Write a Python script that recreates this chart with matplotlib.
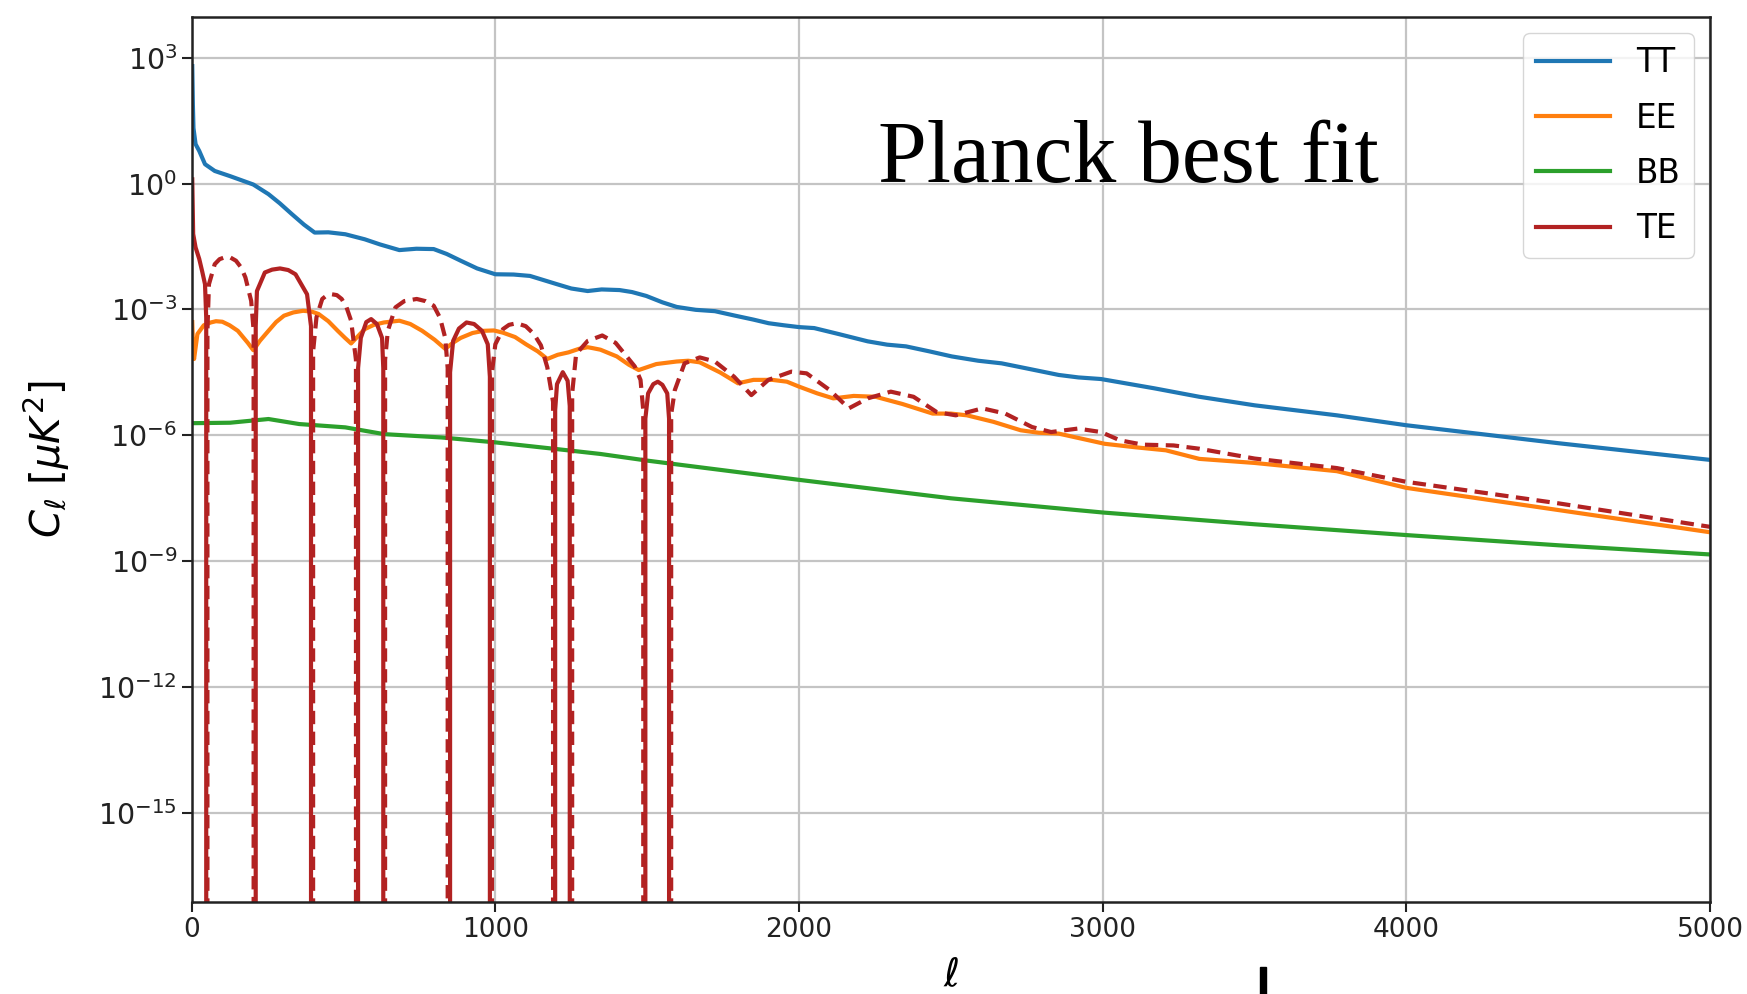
import matplotlib
matplotlib.use("Agg")
import matplotlib.pyplot as plt
from matplotlib.patches import Rectangle
from matplotlib.ticker import NullLocator
import numpy as np

# Planck best-fit angular power spectra, C_ell in uK^2
ell_tt = [2, 4, 6, 13, 25, 44, 76, 127, 203, 253, 290, 329, 370, 405, 450, 506,
          570, 620, 684, 740, 797, 840, 886, 940, 1000, 1060, 1114, 1203, 1250,
          1304, 1350, 1409, 1450, 1497, 1550, 1597, 1660, 1723, 1790, 1849, 1900,
          1950, 2000, 2050, 2130, 2226, 2290, 2352, 2430, 2503, 2590, 2667, 2760,
          2855, 2920, 2994, 3170, 3318, 3500, 3771, 4000, 4500, 5000]
cl_tt = [6.3e2, 79, 21, 8.7, 6.0, 2.9, 2.0, 1.5, 0.95, 0.56, 0.34, 0.19, 0.105,
         6.8e-2, 6.9e-2, 6.2e-2, 4.7e-2, 3.55e-2, 2.6e-2, 2.8e-2, 2.75e-2, 2.1e-2,
         1.45e-2, 9.5e-3, 6.9e-3, 6.8e-3, 6.3e-3, 4.0e-3, 3.16e-3, 2.75e-3, 3.0e-3,
         2.9e-3, 2.6e-3, 2.1e-3, 1.48e-3, 1.15e-3, 9.8e-4, 9.1e-4, 7.1e-4, 5.75e-4,
         4.7e-4, 4.2e-4, 3.8e-4, 3.6e-4, 2.6e-4, 1.74e-4, 1.45e-4, 1.32e-4, 1.0e-4,
         7.6e-5, 6.0e-5, 5.2e-5, 3.8e-5, 2.75e-5, 2.4e-5, 2.2e-5, 1.32e-5, 8.3e-6,
         5.2e-6, 3.0e-6, 1.74e-6, 6.5e-7, 2.6e-7]

ell_ee = [2, 5, 8, 19, 40, 63, 80, 101, 125, 152, 185, 203, 225, 253, 278, 304,
          335, 367, 395, 418, 450, 481, 505, 525, 545, 570, 600, 633, 684, 720,
          759, 800, 835, 860, 886, 925, 962, 995, 1025, 1065, 1101, 1140, 1171,
          1205, 1241, 1275, 1304, 1320, 1346, 1400, 1440, 1472, 1530, 1597, 1635,
          1673, 1740, 1799, 1850, 1912, 1960, 2000, 2060, 2113, 2180, 2252, 2340,
          2440, 2500, 2553, 2640, 2730, 2790, 2855, 3006, 3107, 3208, 3318, 3500,
          3771, 4000, 4500, 5000]
cl_ee = [5.0e-4, 1.0e-4, 6.6e-5, 2.6e-4, 4.2e-4, 4.9e-4, 5.25e-4, 5.1e-4, 4.2e-4,
         3.1e-4, 1.6e-4, 1.07e-4, 1.8e-4, 3.1e-4, 5.0e-4, 7.1e-4, 8.5e-4, 9.3e-4,
         8.9e-4, 7.8e-4, 5.25e-4, 3.1e-4, 2.1e-4, 1.55e-4, 2.2e-4, 3.4e-4, 4.3e-4,
         4.9e-4, 5.4e-4, 4.5e-4, 3.1e-4, 1.9e-4, 1.15e-4, 1.6e-4, 2.1e-4, 2.75e-4,
         3.1e-4, 3.16e-4, 2.8e-4, 2.2e-4, 1.48e-4, 1.0e-4, 6.6e-5, 8.3e-5, 9.5e-5,
         1.15e-4, 1.26e-4, 1.2e-4, 1.1e-4, 7.6e-5, 4.8e-5, 3.6e-5, 5.0e-5, 5.75e-5,
         6.0e-5, 5.5e-5, 3.16e-5, 1.74e-5, 2.1e-5, 2.1e-5, 1.9e-5, 1.45e-5, 1.0e-5,
         7.6e-6, 8.7e-6, 8.3e-6, 5.6e-6, 3.3e-6, 3.3e-6, 3.0e-6, 2.1e-6, 1.32e-6,
         1.15e-6, 1.1e-6, 6.3e-7, 5.2e-7, 4.4e-7, 2.75e-7, 2.2e-7, 1.4e-7, 5.6e-8,
         1.66e-8, 4.9e-9]

ell_bb = [2, 127, 253, 354, 506, 633, 823, 1000, 1203, 1346, 1500, 2000, 2500,
          3000, 3500, 4000, 4500, 5000]
cl_bb = [1.95e-6, 2.0e-6, 2.45e-6, 1.86e-6, 1.55e-6, 1.07e-6, 8.9e-7, 6.8e-7,
         4.7e-7, 3.6e-7, 2.5e-7, 8.7e-8, 3.16e-8, 1.45e-8, 7.6e-9, 4.2e-9, 2.4e-9,
         1.45e-9]

# TE changes sign; zeros mark the crossings
ell_te = [2, 5, 13, 25, 35, 44, 48, 50,
          52, 57, 76, 92, 108, 127, 146, 163, 177, 196, 204, 208,
          211, 215, 241, 265, 291, 318, 342, 380, 393, 397,
          400, 411, 430, 446, 462, 478, 494, 510, 525, 541, 545,
          548, 557, 575, 591, 610, 627, 631, 633,
          637, 646, 671, 700, 741, 770, 797, 818, 835, 843, 847,
          851, 861, 880, 905, 930, 956, 975, 982, 985,
          989, 1000, 1025, 1045, 1070, 1100, 1127, 1150, 1171, 1190, 1194,
          1197, 1203, 1222, 1238, 1245, 1249,
          1253, 1266, 1304, 1352, 1396, 1459, 1478, 1487, 1490,
          1494, 1503, 1520, 1535, 1550, 1566, 1572, 1575,
          1579, 1591, 1623, 1673, 1723, 1786, 1843, 1899, 1975, 2025, 2101,
          2164, 2226, 2302, 2377, 2453, 2516, 2604, 2679, 2767, 2830, 2918,
          2994, 3057, 3132, 3233, 3318, 3500, 3771, 4000, 4500, 5000]
cl_te = [1.26, 6.3e-2, 3.0e-2, 1.6e-2, 7.9e-3, 4.0e-3, 6.3e-4, 0.0,
         -3.2e-4, -4.0e-3, -1.2e-2, -1.58e-2, -1.74e-2, -1.74e-2, -1.45e-2, -1.0e-2,
         -5.8e-3, -1.6e-3, -3.2e-4, 0.0,
         4.0e-4, 2.75e-3, 7.6e-3, 8.9e-3, 9.5e-3, 8.7e-3, 6.9e-3, 2.3e-3, 4.0e-4, 0.0,
         -1.0e-4, -6.5e-4, -1.78e-3, -2.2e-3, -2.3e-3, -2.2e-3, -1.78e-3, -1.12e-3,
         -5.4e-4, -6.3e-5, 0.0,
         4.0e-5, 2.1e-4, 5.0e-4, 5.9e-4, 4.5e-4, 2.1e-4, 4.0e-5, 0.0,
         -6.3e-5, -3.1e-4, -1.12e-3, -1.58e-3, -1.78e-3, -1.58e-3, -1.23e-3, -6.3e-4,
         -2.1e-4, -4.0e-5, 0.0,
         3.2e-5, 1.78e-4, 3.5e-4, 4.9e-4, 4.5e-4, 3.1e-4, 1.48e-4, 2.5e-5, 0.0,
         -3.2e-5, -1.48e-4, -3.4e-4, -4.3e-4, -4.7e-4, -4.0e-4, -2.6e-4, -1.4e-4,
         -4.2e-5, -6.3e-6, 0.0,
         4.0e-6, 1.66e-5, 3.2e-5, 2.0e-5, 5.0e-6, 0.0,
         -1.0e-5, -8.7e-5, -1.78e-4, -2.4e-4, -1.6e-4, -4.4e-5, -2.1e-5, -4.0e-6, 0.0,
         2.5e-6, 1.0e-5, 1.66e-5, 1.9e-5, 1.6e-5, 1.0e-5, 2.5e-6, 0.0,
         -3.2e-6, -1.2e-5, -5.2e-5, -7.2e-5, -5.75e-5, -2.5e-5, -9.1e-6, -2.1e-5,
         -3.3e-5, -3.0e-5, -1.2e-5, -4.4e-6, -7.6e-6, -1.1e-5, -8.3e-6, -3.6e-6,
         -3.0e-6, -4.4e-6, -3.3e-6, -1.58e-6, -1.2e-6, -1.45e-6, -1.2e-6, -7.6e-7,
         -6.0e-7, -5.75e-7, -4.8e-7, -2.8e-7, -1.66e-7, -7.8e-8, -2.4e-8, -6.6e-9]

fig = plt.figure(figsize=(17.47, 9.94), dpi=100)
ax = fig.add_axes([0.1097, 0.0926, 0.8692, 0.8903])
ax.set_yscale('log', nonpositive='clip')

lw = 3.0
ax.plot(ell_tt, cl_tt, color='#1f77b4', lw=lw, label='TT')
ax.plot(ell_ee, cl_ee, color='#ff7f0e', lw=lw, label='EE')
ax.plot(ell_bb, cl_bb, color='#2ca02c', lw=lw, label='BB')
te = np.array(cl_te)
ax.plot(ell_te, te, color='firebrick', lw=lw, label='TE')
ax.plot(ell_te, -te, color='firebrick', lw=lw, dashes=(3.2, 1.8))

ax.set_xlim(0, 5000)
ax.set_ylim(10**-17.12, 10**3.97)
ax.set_yticks([1e3, 1e0, 1e-3, 1e-6, 1e-9, 1e-12, 1e-15])
ax.yaxis.set_minor_locator(NullLocator())
ax.grid(True, color='#c4c4c4', lw=1.6)
ax.set_axisbelow(True)
ax.tick_params(length=7, width=1.5, colors='#222222')
ax.tick_params(axis='x', labelsize=19)
ax.tick_params(axis='y', labelsize=20.5)
for sp in ax.spines.values():
    sp.set_linewidth(1.8)
    sp.set_color('#222222')

ax.set_xlabel(r'$\ell$', fontsize=28)
ax.xaxis.set_label_coords(0.5, -0.061)
ax.set_ylabel(r'$C_\ell$ [$\mu K^2$]', fontsize=29)
ax.yaxis.set_label_coords(-0.079, 0.5)

ax.legend(loc='upper right', fontsize=23.5, handlelength=2.25, handletextpad=0.8,
          labelspacing=0.68, borderaxespad=0.5)

fig.text(0.5026, 0.8173, 'Planck best fit', fontsize=63,
         family='Liberation Serif', va='baseline')

# short black bar under the axis
fig.patches.append(Rectangle((1260 / 1747, 0), 6 / 1747, 27 / 994,
                             transform=fig.transFigure, color='black'))

fig.savefig('out.png', dpi=100)
